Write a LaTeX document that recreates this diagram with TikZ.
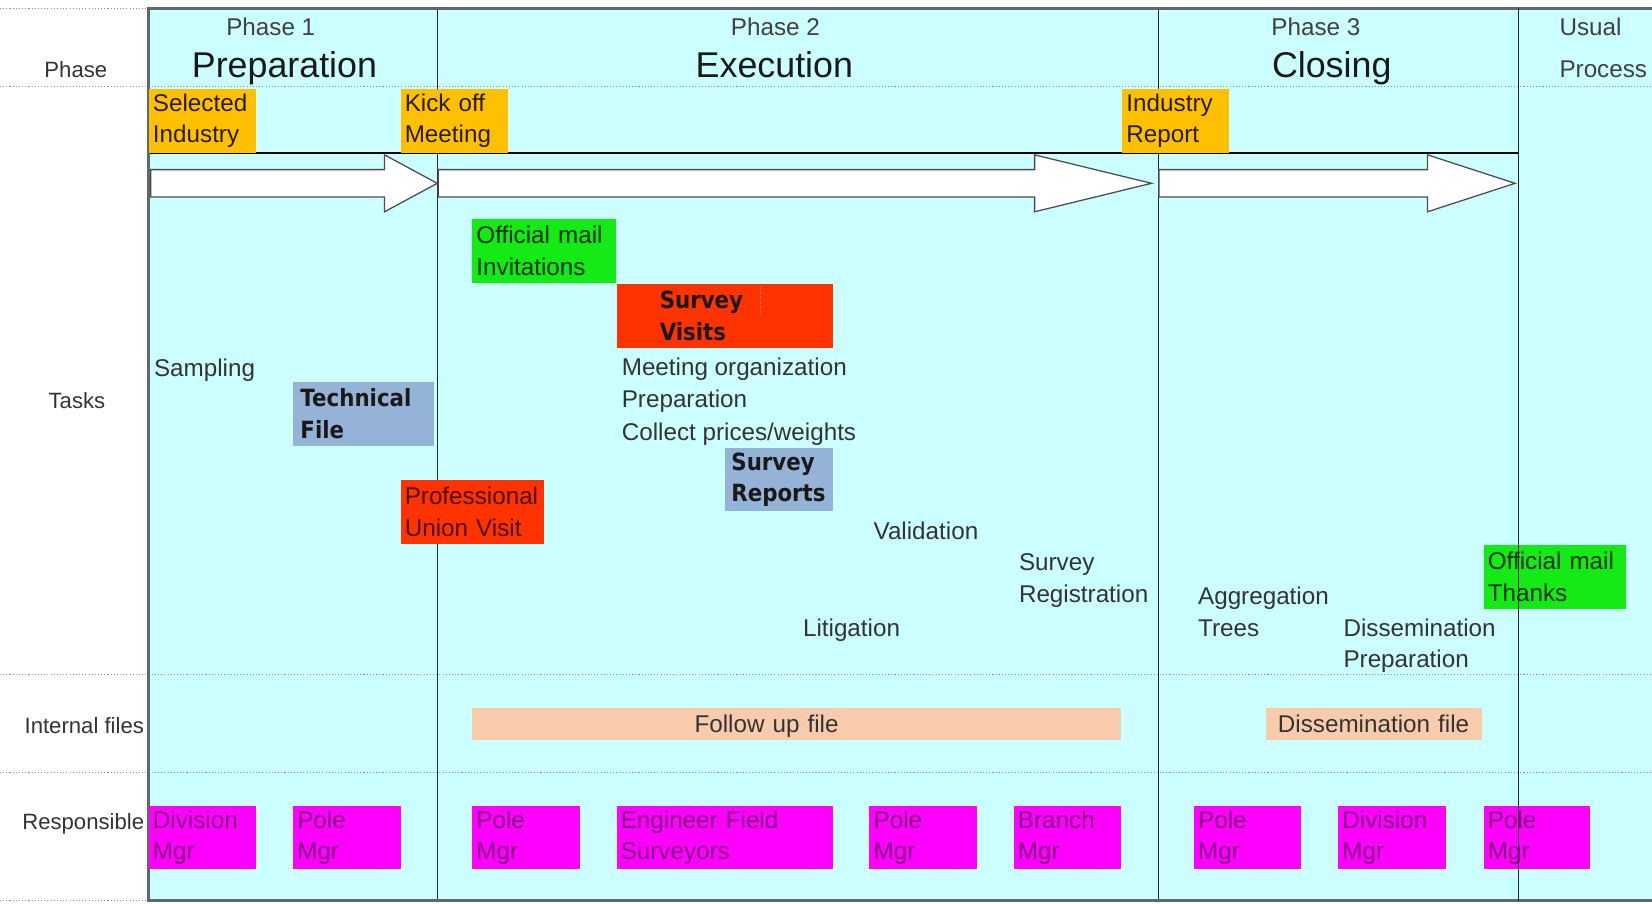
\documentclass[tikz,border=0pt]{standalone}
\usepackage{fontspec}
\setmainfont{Liberation Sans}
\newfontfamily\boldsans{DejaVu Sans}[FakeStretch=0.9]

\definecolor{panelcyan}{RGB}{204,255,255}
\definecolor{mileorange}{RGB}{255,192,0}
\definecolor{mailgreen}{RGB}{20,235,20}
\definecolor{visitred}{RGB}{255,51,0}
\definecolor{filepeach}{RGB}{248,203,173}
\definecolor{reportblue}{RGB}{149,179,215}
\definecolor{respmagenta}{RGB}{255,0,255}
\definecolor{bordergray}{RGB}{95,105,105}

\begin{document}
\begin{tikzpicture}[x = 1pt, y = -1pt]
\tikzstyle{every node} = [inner sep = 0pt, font = \fontsize{23}{30}\selectfont]
\tikzstyle{rowlabel} = [font = \fontsize{21}{25}\selectfont, text = black!80]
\tikzstyle{phasenum} = [anchor = base, font = \fontsize{23}{27}\selectfont, text = black!75]
\tikzstyle{phasename} = [anchor = base, font = \fontsize{34}{40}\selectfont, text = black!90]
\tikzstyle{box} = [anchor = north west, inner xsep = 4pt, align = left]
\tikzstyle{milestone} = [box, fill = mileorange, text = black!85!mileorange, minimum height = 61pt]
\tikzstyle{mail} = [box, fill = mailgreen, text = black!80!mailgreen, minimum height = 60pt]
\tikzstyle{visit} = [box, fill = visitred, text = black!70!visitred, minimum height = 61pt]
\tikzstyle{boldtext} = [font = \boldsans\bfseries\fontsize{22.5}{30}\selectfont, text = black!90]
\tikzstyle{report} = [box, fill = reportblue, minimum height = 61pt, boldtext]
\tikzstyle{filebar} = [box, fill = filepeach, minimum height = 30pt, text depth = 0pt, text = black!80]
\tikzstyle{resp} = [box, fill = respmagenta, text = black!50!respmagenta, minimum height = 60pt]
\tikzstyle{task} = [anchor = west, align = left, text = black!80]
\tikzstyle{phasearrow} = [fill = white, draw = black!70, line width = 1.2pt, line join = miter]

\useasboundingbox (0,0) rectangle (1568,858);
\fill [white] (0,0) rectangle (1568,858);
\fill [panelcyan] (141,8) rectangle (1568,855);

% row separators
\foreach \y in {8,82,640,733,855}
{
    \draw [dotted, black!45, line width = 1pt] (0,\y) -- (1568,\y);
}
\draw [black!85] (415,8) -- (415,855); %phase 1 to phase 2
\draw [black!85] (1099,8) -- (1099,855); %phase 2 to phase 3
\draw [black, line width = 2pt] (141,145) -- (1441,145); %milestones
\draw [bordergray, line width = 3pt] (1568,8) -- (141,8) -- (141,855) -- (1568,855); %frame

% phase arrows
\draw [phasearrow] (143,161) -- (365,161) -- (365,147) -- (415,174) -- (365,201) -- (365,187) -- (143,187) -- cycle;
\draw [phasearrow] (416,161) -- (982,161) -- (982,147) -- (1093,174) -- (982,201) -- (982,187) -- (416,187) -- cycle;
\draw [phasearrow] (1100,161) -- (1355,161) -- (1355,147) -- (1438,174) -- (1355,201) -- (1355,187) -- (1100,187) -- cycle;

% row labels
\node [rowlabel] (lphase) at (72,66) {Phase};
\node [rowlabel] (ltasks) at (73,380) {Tasks};
\node [rowlabel] (lfiles) at (80,689) {Internal files};
\node [rowlabel] (lresp) at (79,782) {Responsible};

% header
\node [phasenum] (ph1) at (257,34) {Phase 1};
\node [phasename] (prep) at (270,74) {Preparation};
\node [phasenum] (ph2) at (736,34) {Phase 2};
\node [phasename] (exec) at (735,74) {Execution};
\node [phasenum] (ph3) at (1249,34) {Phase 3};
\node [phasename] (closing) at (1264,74) {Closing};
\node [phasenum, anchor = base west] (usual) at (1480,34) {Usual};
\node [phasenum, anchor = base west] (process) at (1480,74) {Process};

% milestones
\node [milestone, text width = 94pt] (sel) at (141,84) {Selected\\Industry};
\node [milestone, text width = 94pt] (kickoff) at (380,84) {Kick off\\Meeting};
\node [milestone, text width = 93pt] (indrep) at (1065,84) {Industry\\Report};

% tasks
\node [task] (sampling) at (146,351) {Sampling};
\node [report, inner xsep = 7pt, text width = 120pt] (techfile) at (278,362) {Technical\\File};
\node [visit, text width = 128pt] (profunion) at (380,455) {Professional\\Union Visit};
\node [mail, text width = 128pt] (invit) at (448,208) {Official mail\\Invitations};
\node [visit, boldtext, inner xsep = 41pt, text width = 123pt] (visits) at (585,269) {Survey\\Visits};
\draw [dotted, black!40] (722,271) -- (722,298);
\node [task, font = \fontsize{23}{31}\selectfont] (meetings) at (590,381) {Meeting organization\\Preparation\\Collect prices/weights};
\node [report, inner xsep = 6pt, text width = 90pt, minimum height = 60pt] (survrep) at (688,425) {Survey\\Reports};
\node [task] (validation) at (829,504) {Validation};
\node [task] (survreg) at (967,551) {Survey\\Registration};
\node [task] (litigation) at (762,598) {Litigation};
\node [task] (aggreg) at (1137,581) {Aggregation\\Trees};
\node [task] (dissprep) at (1275,613) {Dissemination\\Preparation};
\node [mail, text width = 127pt, minimum height = 61pt] (thanks) at (1408,517) {Official mail\\Thanks};

% internal files
\node [filebar, inner xsep = 211pt, text width = 194pt] (followup) at (448,672) {Follow up file};
\node [filebar, inner xsep = 6pt, text width = 193pt, align = center] (dissfile) at (1201,672) {Dissemination file};

% responsible
\foreach \x/\tw/\t [count=\i] in {141/94pt/Division\\Mgr, 278/94pt/Pole\\Mgr, 448/94pt/Pole\\Mgr, 585/197pt/Engineer Field\\Surveyors, 825/94pt/Pole\\Mgr, 962/94pt/Branch\\Mgr, 1133/94pt/Pole\\Mgr, 1270/94pt/Division\\Mgr, 1408/93pt/Pole\\Mgr}
{
    \node [resp, text width = \tw] (resp\i) at (\x,765) {\t};
}

\draw [black!85] (1441,8) -- (1441,855); %phase 3 to usual process
\end{tikzpicture}
\end{document}
